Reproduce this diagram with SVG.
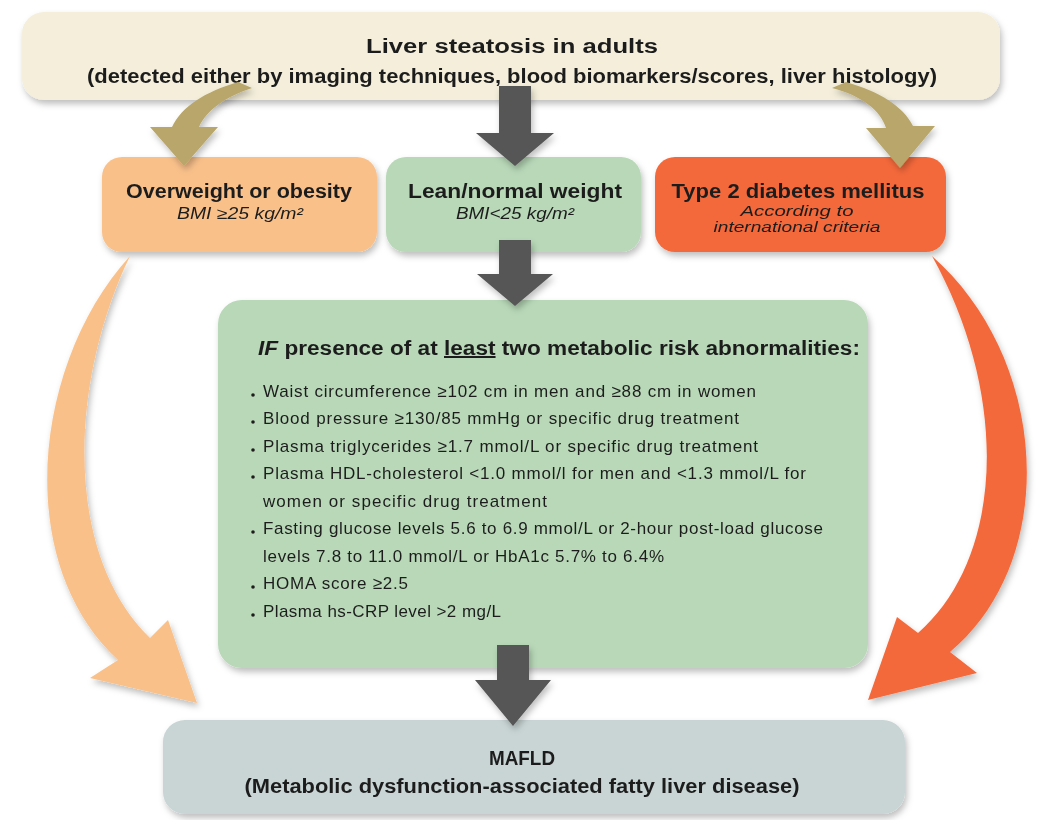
<svg xmlns="http://www.w3.org/2000/svg" width="1040" height="820" viewBox="0 0 1040 820">
<defs>
<filter id="sh" x="-10%" y="-10%" width="120%" height="130%">
<feDropShadow dx="2" dy="4" stdDeviation="3" flood-color="#000" flood-opacity="0.25"/>
</filter>
<style>
.t{font-family:"Liberation Sans",Arial,sans-serif;fill:#1e1e1e}
.i{font-style:italic}
.h{font-size:20px;font-weight:bold}
.s{font-size:16px}
.bl{font-size:17px}
.dark{fill:#565656}
</style>
</defs>
<rect width="1040" height="820" fill="#fff"/>

<g id="top" filter="url(#sh)">
<rect x="22" y="12" width="978" height="88" rx="22" fill="#F4EEDB"/>
<text class="t h" x="512" y="53" text-anchor="middle" textLength="292" lengthAdjust="spacingAndGlyphs">Liver steatosis in adults</text>
<text class="t h" x="512" y="83" text-anchor="middle" textLength="850" lengthAdjust="spacingAndGlyphs">(detected either by imaging techniques, blood biomarkers/scores, liver histology)</text>
</g>

<g id="overweight" filter="url(#sh)">
<rect x="102" y="157" width="275" height="95" rx="20" fill="#F9C08A"/>
<text class="t h" x="239" y="198" text-anchor="middle" textLength="226" lengthAdjust="spacingAndGlyphs">Overweight or obesity</text>
<text class="t i s" x="240" y="219" text-anchor="middle" textLength="126" lengthAdjust="spacingAndGlyphs">BMI ≥25 kg/m²</text>
</g>

<g id="lean" filter="url(#sh)">
<rect x="386" y="157" width="255" height="95" rx="20" fill="#B8D8B8"/>
<text class="t h" x="515" y="198" text-anchor="middle" textLength="214" lengthAdjust="spacingAndGlyphs">Lean/normal weight</text>
<text class="t i s" x="515" y="219" text-anchor="middle" textLength="118" lengthAdjust="spacingAndGlyphs">BMI&lt;25 kg/m²</text>
</g>

<g id="diabetes" filter="url(#sh)">
<rect x="655" y="157" width="291" height="95" rx="20" fill="#F4693A"/>
<text class="t h" x="798" y="198" text-anchor="middle" textLength="253" lengthAdjust="spacingAndGlyphs">Type 2 diabetes mellitus</text>
<text class="t i" x="797" y="216" text-anchor="middle" font-size="14" textLength="113" lengthAdjust="spacingAndGlyphs">According to</text>
<text class="t i" x="797" y="232" text-anchor="middle" font-size="14" textLength="167" lengthAdjust="spacingAndGlyphs">international criteria</text>
</g>

<g id="criteria" filter="url(#sh)">
<rect x="218" y="300" width="650" height="368" rx="24" fill="#B8D8B8"/>
<text class="t h" x="258" y="355" font-size="21" textLength="602" lengthAdjust="spacingAndGlyphs"><tspan font-style="italic">IF</tspan> presence of at <tspan text-decoration="underline">least</tspan> two metabolic risk abnormalities:</text>
<g class="t bl">
<circle cx="253" cy="395" r="1.8" fill="#1e1e1e"/>
<text x="263" y="397" textLength="493" lengthAdjust="spacing">Waist circumference ≥102 cm in men and ≥88 cm in women</text>
<circle cx="253" cy="422" r="1.8" fill="#1e1e1e"/>
<text x="263" y="424" textLength="476" lengthAdjust="spacing">Blood pressure ≥130/85 mmHg or specific drug treatment</text>
<circle cx="253" cy="450" r="1.8" fill="#1e1e1e"/>
<text x="263" y="452" textLength="495" lengthAdjust="spacing">Plasma triglycerides ≥1.7 mmol/L or specific drug treatment</text>
<circle cx="253" cy="477" r="1.8" fill="#1e1e1e"/>
<text x="263" y="479" textLength="543" lengthAdjust="spacing">Plasma HDL-cholesterol &lt;1.0 mmol/l for men and &lt;1.3 mmol/L for</text>
<text x="263" y="507" textLength="284" lengthAdjust="spacing">women or specific drug treatment</text>
<circle cx="253" cy="532" r="1.8" fill="#1e1e1e"/>
<text x="263" y="534" textLength="560" lengthAdjust="spacing">Fasting glucose levels 5.6 to 6.9 mmol/L or 2-hour post-load glucose</text>
<text x="263" y="562" textLength="401" lengthAdjust="spacing">levels 7.8 to 11.0 mmol/L or HbA1c 5.7% to 6.4%</text>
<circle cx="253" cy="587" r="1.8" fill="#1e1e1e"/>
<text x="263" y="589" textLength="145" lengthAdjust="spacing">HOMA score ≥2.5</text>
<circle cx="253" cy="615" r="1.8" fill="#1e1e1e"/>
<text x="263" y="617" textLength="238" lengthAdjust="spacing">Plasma hs-CRP level &gt;2 mg/L</text>
</g>
</g>

<g id="mafld" filter="url(#sh)">
<rect x="163" y="720" width="742" height="94" rx="22" fill="#C8D5D4"/>
<text class="t h" x="522" y="765" text-anchor="middle" textLength="66" lengthAdjust="spacingAndGlyphs">MAFLD</text>
<text class="t h" x="522" y="793" text-anchor="middle" textLength="555" lengthAdjust="spacingAndGlyphs">(Metabolic dysfunction-associated fatty liver disease)</text>
</g>

<g id="connectors" filter="url(#sh)">
<polygon class="dark" points="499,86 531,86 531,133 554,133 515,166 476,133 499,133"/>
<polygon class="dark" points="499,240 531,240 531,274 553,274 515,306 477,274 499,274"/>
<polygon class="dark" points="497,645 529,645 529,680 551,680 513,726 475,680 497,680"/>
<path fill="#B8A66A" d="M238,82 C205,92 182,106 172,127 L150,127 L184,166 L218,127 L199,127 C207,110 225,97 252,88 Z"/>
<path fill="#B8A66A" d="M832,88 C862,96 880,110 886,128 L866,128 L900,168 L935,126 L913,126 C903,106 880,92 846,82 Z"/>
<path fill="#F9C08A" d="M130,256 C35,360 10,560 118,660 L90,678 L197,703 L168,620 L150,638 C62,552 70,380 130,256 Z"/>
<path fill="#F4693A" d="M932,256 C1050,360 1060,560 950,652 L977,673 L868,700 L897,617 L918,633 C1002,560 1012,400 932,256 Z"/>
</g>
</svg>
